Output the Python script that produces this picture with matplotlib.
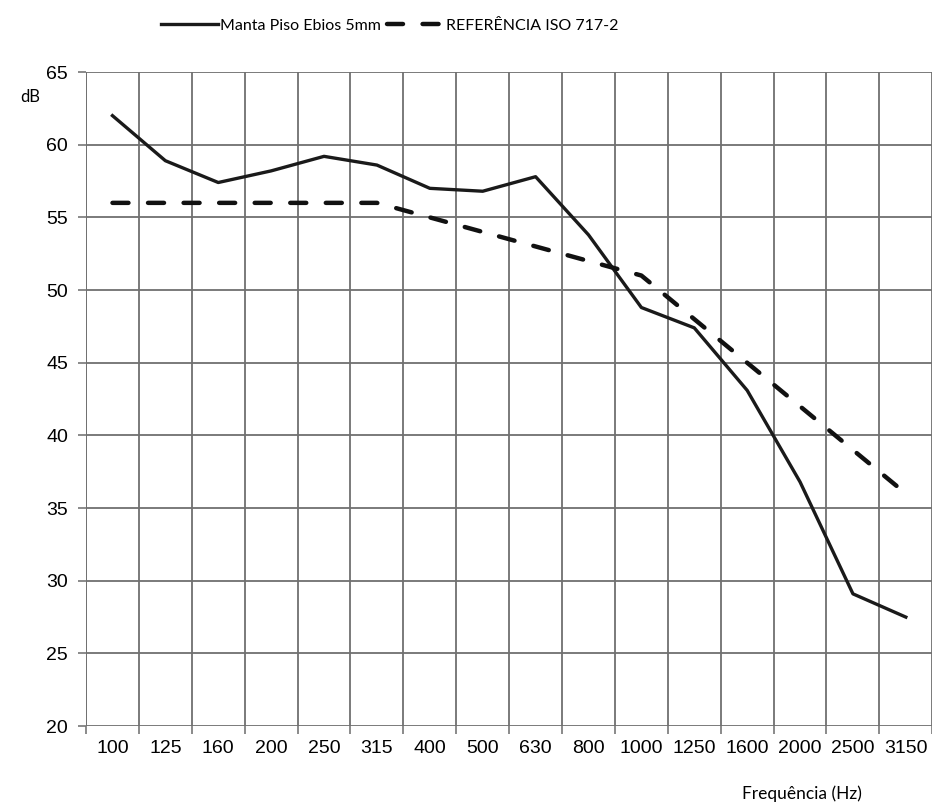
import matplotlib.pyplot as plt
import numpy as np

# frequencias (Hz) em terço de oitava
frequencias = ["100", "125", "160", "200", "250", "315", "400", "500",
               "630", "800", "1000", "1250", "1600", "2000", "2500", "3150"]

# nivel de pressao sonora de impacto (dB)
manta_piso = [62.0, 58.9, 57.4, 58.2, 59.2, 58.6, 57.0, 56.8,
              57.8, 53.8, 48.8, 47.4, 43.1, 36.8, 29.1, 27.5]
referencia_iso = [56, 56, 56, 56, 56, 56, 55, 54,
                  53, 52, 51, 48, 45, 42, 39, 36]

nome_manta = "Manta Piso Ebios 5mm"
nome_ref = "REFERÊNCIA ISO 717-2"

fonte_texto = ["Lato", "DejaVu Sans"]
fonte_num = ["Liberation Sans", "DejaVu Sans"]

fig = plt.figure(figsize=(9.32, 8.05), dpi=100)
ax = fig.add_axes([0.0923, 0.098, 0.908, 0.8125])

x = np.arange(len(frequencias))
l1, = ax.plot(x, manta_piso, color="#1a1a1a", lw=2.4, solid_joinstyle="round",
              label=nome_manta, zorder=3)
l2, = ax.plot(x, referencia_iso, color="#111111", lw=3.2, dashes=(3.6, 4.4),
              dash_capstyle="round", label=nome_ref, zorder=3)

ax.set_xlim(-0.5, len(frequencias) - 0.5)
ax.set_ylim(20, 65)
ax.set_yticks(np.arange(20, 66, 5))
ax.set_xticks(x)
ax.set_xticklabels(frequencias)
ax.set_xticks(np.arange(-0.5, len(frequencias), 1), minor=True)

ax.tick_params(axis="x", which="major", length=0, pad=10, labelsize=14)
ax.tick_params(axis="x", which="minor", length=6, color="#777777", width=1.2)
ax.tick_params(axis="y", length=6, color="#777777", width=1.2, pad=7, labelsize=14)
for lab in ax.get_xticklabels() + ax.get_yticklabels():
    lab.set_family(fonte_num)

ax.grid(True, which="minor", axis="x", color="#707070", lw=1.3)
ax.grid(True, which="major", axis="y", color="#707070", lw=1.3)
ax.set_axisbelow(True)
for lado in ["top", "right", "bottom", "left"]:
    ax.spines[lado].set_visible(False)
ax.axvline(-0.5, color="#707070", lw=1.3, zorder=1)

fig.text(0.022, 0.873, "dB", family=fonte_texto, fontsize=12)
fig.text(0.925, 0.008, "Frequência (Hz)", family=fonte_texto, fontsize=12.5, ha="right")

fig.legend(handles=[l1, l2], loc="center", bbox_to_anchor=(0.418, 0.968), ncol=2,
           frameon=False, handlelength=3.6, handletextpad=0.1, columnspacing=0.4,
           prop={"family": fonte_texto, "size": 11.5})

fig.savefig("out.png", dpi=100)
